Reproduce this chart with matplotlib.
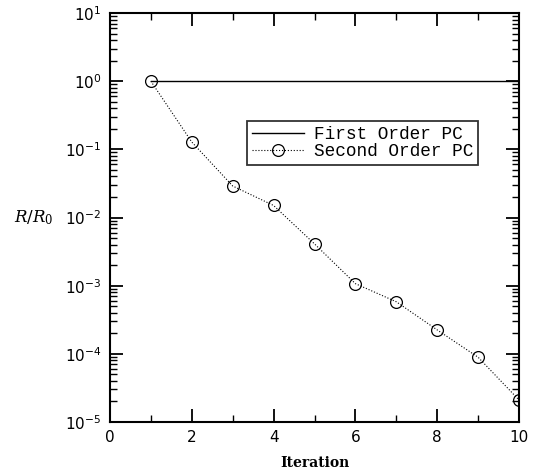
import matplotlib
matplotlib.use("Agg")
import matplotlib.pyplot as plt
from matplotlib.ticker import LogLocator, MultipleLocator, NullFormatter

iterations = [1, 2, 3, 4, 5, 6, 7, 8, 9, 10]
first_order = [1.0, 1.0, 1.0, 1.0, 1.0, 1.0, 1.0, 1.0, 1.0, 1.0]
second_order = [1.0, 0.128, 0.029, 0.015, 0.0041, 0.00107, 0.00058, 0.000224, 8.9e-5, 2.1e-5]

plt.rcParams['mathtext.fontset'] = 'dejavuserif'

fig = plt.figure(figsize=(5.39, 4.75), dpi=100)
ax = fig.add_axes([0.204, 0.1116, 0.759, 0.861])

ax.plot(iterations, first_order, color='black', lw=1.0, label='First Order PC')
ax.plot(iterations, second_order, color='black', lw=0.8, ls=':', marker='o',
        mfc='none', mec='black', ms=8.5, mew=0.9, label='Second Order PC')

ax.set_yscale('log')
ax.set_xlim(0, 10)
ax.set_ylim(1e-5, 1e1)
ax.xaxis.set_major_locator(MultipleLocator(2))
ax.xaxis.set_minor_locator(MultipleLocator(1))
ax.yaxis.set_major_locator(LogLocator(base=10, numticks=20))
ax.yaxis.set_minor_locator(LogLocator(base=10, subs=range(2, 10), numticks=20))
ax.yaxis.set_minor_formatter(NullFormatter())

ax.tick_params(which='major', direction='in', length=9.4, width=1.3, top=True, right=True,
               labelsize=11, pad=6)
ax.tick_params(which='minor', direction='in', length=5, width=1.0, top=True, right=True)
for s in ax.spines.values():
    s.set_linewidth(1.5)

for lab in ax.get_xticklabels() + ax.get_yticklabels():
    lab.set_family('DejaVu Sans')

ax.set_xlabel('Iteration', family='DejaVu Serif', fontweight='bold', fontsize=10, labelpad=8)
ax.text(-0.235, 0.5, r'$R/R_0$', transform=ax.transAxes, fontsize=12, va='center', ha='left')

leg = ax.legend(loc='upper left', bbox_to_anchor=(0.335, 0.737), frameon=True, fancybox=False,
                edgecolor='black', prop={'family': 'Liberation Mono', 'size': 12.8},
                handlelength=2.9, borderpad=0.3, labelspacing=0.0, handletextpad=0.55,
                borderaxespad=0)
leg.get_frame().set_linewidth(1.3)

fig.savefig('out.png', dpi=100)
